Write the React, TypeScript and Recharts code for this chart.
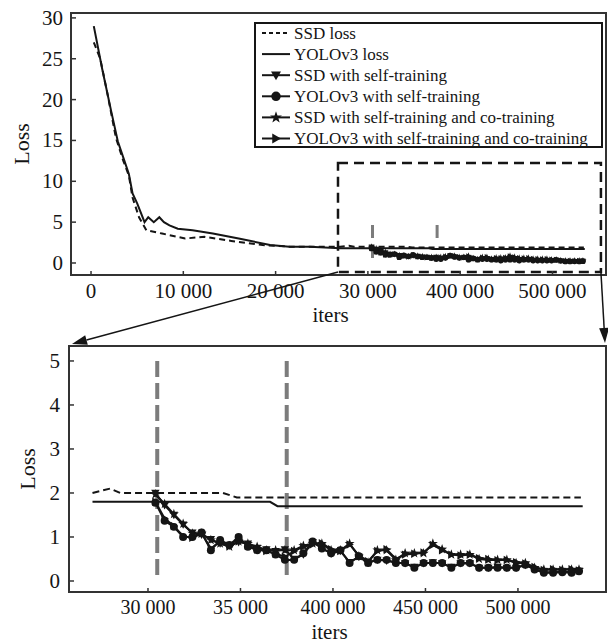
import React from 'react';
import { LineChart, Line, XAxis, YAxis, ReferenceLine, ReferenceArea, Legend } from 'recharts';

const FONT = '"Liberation Serif", "Times New Roman", serif';
const INK = '#151515';
const FRAME = '#333';
const GREY = '#7c7c7c';

// x positions are "label slots": the printed iteration labels are not on a linear scale
const topTicks = [0, 1, 2, 3, 4, 5];
const topTickLabels = ['0', '10 000', '20 000', '30 000', '400 000', '500 000'];
const topYTicks = [0, 5, 10, 15, 20, 25, 30];
const zoomTicks = [3, 3.5, 4, 4.5, 5];
const zoomTickLabels = ['30 000', '35 000', '400 000', '450 000', '500 000'];
const zoomYTicks = [0, 1, 2, 3, 4, 5];

const seriesNames = [
  'SSD loss',
  'YOLOv3 loss',
  'SSD with self-training',
  'YOLOv3 with self-training',
  'SSD with self-training and co-training',
  'YOLOv3 with self-training and co-training',
];

const ssdLossX = [0.03, 0.1, 0.18, 0.27, 0.35, 0.41, 0.45, 0.52, 0.6, 0.77, 1.02, 1.23, 1.52, 1.86, 2.15, 2.45, 2.7, 2.795, 2.85, 3.405, 3.48, 5.34];
const ssdLossY = [27.0, 25.0, 20.6, 15.3, 12.5, 10.7, 8.0, 5.6, 4.0, 3.6, 3.0, 3.2, 2.7, 2.2, 2.0, 2.0, 2.0, 2.1, 2.0, 2.0, 1.9, 1.9];

const yoloLossX = [0.03, 0.12, 0.22, 0.29, 0.35, 0.41, 0.45, 0.5, 0.58, 0.62, 0.68, 0.74, 0.79, 0.85, 0.94, 1.1, 1.32, 1.6, 1.94, 2.15, 2.37, 2.7, 3.66, 3.7, 5.35];
const yoloLossY = [29.0, 23.8, 18.5, 14.9, 12.9, 10.9, 8.5, 7.3, 5.0, 5.6, 5.0, 5.6, 5.0, 4.6, 4.2, 4.0, 3.6, 3.0, 2.2, 2.0, 2.0, 1.8, 1.8, 1.7, 1.7];

const selfX = [3.04, 3.09, 3.14, 3.19, 3.24, 3.29, 3.34, 3.39, 3.44, 3.49, 3.54, 3.59, 3.64, 3.69, 3.74, 3.79, 3.84, 3.89, 3.94, 3.99, 4.04, 4.09, 4.14, 4.19, 4.24, 4.29, 4.34, 4.39, 4.44, 4.49, 4.54, 4.59, 4.64, 4.69, 4.74, 4.79, 4.84, 4.89, 4.94, 4.99, 5.04, 5.09, 5.14, 5.19, 5.24, 5.29, 5.33];
const ssdSelf = [2.0, 1.72, 1.5, 1.28, 1.1, 1.05, 0.95, 0.85, 0.8, 0.88, 0.85, 0.75, 0.72, 0.68, 0.72,
  0.5, 0.6, 0.88, 0.75, 0.62, 0.68, 0.43, 0.55, 0.42, 0.48, 0.46, 0.42, 0.4, 0.32, 0.4, 0.42, 0.4, 0.32, 0.4, 0.4, 0.3, 0.3, 0.32, 0.3, 0.3, 0.36, 0.27, 0.2, 0.2, 0.21, 0.2, 0.23];
const yoloSelf = [1.78, 1.37, 1.23, 1.0, 1.0, 1.1, 0.7, 0.93, 0.82, 1.0, 0.78, 0.7, 0.7, 0.6, 0.48,
  0.48, 0.63, 0.9, 0.74, 0.63, 0.7, 0.41, 0.56, 0.41, 0.48, 0.48, 0.41, 0.41, 0.3, 0.41, 0.41, 0.41, 0.3, 0.41, 0.41, 0.3, 0.3, 0.3, 0.3, 0.3, 0.37, 0.26, 0.19, 0.19, 0.2, 0.19, 0.22];
const ssdCo = [1.97, 1.75, 1.52, 1.3, 1.08, 1.08, 0.93, 0.85, 0.78, 0.9, 0.85, 0.78, 0.7, 0.7, 0.7,
  0.7, 0.8, 0.85, 0.85, 0.7, 0.7, 0.85, 0.56, 0.42, 0.7, 0.7, 0.48, 0.63, 0.63, 0.63, 0.85, 0.72, 0.6, 0.6, 0.6, 0.5, 0.48, 0.48, 0.48, 0.41, 0.41, 0.3, 0.26, 0.26, 0.26, 0.26, 0.26];
const yoloCo = [1.8, 1.42, 1.25, 1.02, 0.98, 1.08, 0.74, 0.9, 0.8, 0.97, 0.8, 0.72, 0.68, 0.62, 0.55,
  0.68, 0.78, 0.83, 0.86, 0.72, 0.68, 0.83, 0.58, 0.45, 0.68, 0.72, 0.5, 0.6, 0.62, 0.65, 0.82, 0.7, 0.6, 0.58, 0.6, 0.52, 0.5, 0.47, 0.48, 0.43, 0.4, 0.32, 0.25, 0.27, 0.25, 0.27, 0.24];

// where training switches mode (grey dashed marks)
const switchX = [3.05, 3.75];

const pts = (xs: number[], ys: number[]) => xs.map((x, i) => ({ x, y: ys[i] }));
const ssdLoss = pts(ssdLossX, ssdLossY);
const yoloLoss = pts(yoloLossX, yoloLossY);
const zoomStart = 2.7;

type Kind = 'down' | 'circle' | 'star' | 'right' | null;
const selfSeries: { name: string; values: number[]; kind: Kind }[] = [
  { name: seriesNames[2], values: ssdSelf, kind: 'down' },
  { name: seriesNames[3], values: yoloSelf, kind: 'circle' },
  { name: seriesNames[4], values: ssdCo, kind: 'star' },
  { name: seriesNames[5], values: yoloCo, kind: 'right' },
];

// axis windows
const TOP_X: [number, number] = [-0.217, 5.58];
const TOP_Y: [number, number] = [-1.47, 30.6];
const ZOOM_X: [number, number] = [2.573, 5.476];
const ZOOM_Y: [number, number] = [-0.25, 5.34];
const zoomBox = { x1: 2.676, x2: 5.525, y1: -1.1, y2: 12.24 };

function Marker({ cx, cy, kind, s }: { cx?: number; cy?: number; kind: Kind; s: number }) {
  if (cx == null || cy == null || !kind) return null;
  if (kind === 'circle') return <circle cx={cx} cy={cy} r={s * 0.95} fill={INK} />;
  if (kind === 'down')
    return <polygon points={`${cx - s},${cy - s * 0.75} ${cx + s},${cy - s * 0.75} ${cx},${cy + s}`} fill={INK} />;
  if (kind === 'right')
    return <polygon points={`${cx - s * 0.75},${cy - s} ${cx - s * 0.75},${cy + s} ${cx + s},${cy}`} fill={INK} />;
  const p: string[] = [];
  for (let k = 0; k < 10; k++) {
    const r = k % 2 === 0 ? s * 1.25 : s * 0.5;
    const a = -Math.PI / 2 + (k * Math.PI) / 5;
    p.push(`${cx + r * Math.cos(a)},${cy + r * Math.sin(a)}`);
  }
  return <polygon points={p.join(' ')} fill={INK} />;
}

const makeXTick = (ticks: number[], labels: string[], gap: number, size: number) => (props: any) => {
  const { x, y, payload } = props;
  const label = labels[ticks.indexOf(payload.value)];
  return (
    <g>
      <line x1={x} x2={x} y1={y} y2={y - 4} stroke={FRAME} strokeWidth={1.5} />
      <text x={x} y={y + gap} textAnchor="middle" fontSize={size} fontFamily={FONT} fill={INK}>{label}</text>
    </g>
  );
};

const makeYTick = (gap: number) => (props: any) => {
  const { x, y, payload } = props;
  return (
    <g>
      <line x1={x} x2={x + 5} y1={y} y2={y} stroke={FRAME} strokeWidth={1.5} />
      <text x={x - gap} y={y + 7} textAnchor="end" fontSize={21} fontFamily={FONT} fill={INK}>{payload.value}</text>
    </g>
  );
};

const yTitle = (dx: number) => (props: any) => {
  const vb = props.viewBox || {};
  const cx = (vb.x || 0) + dx;
  const cy = (vb.y || 0) + (vb.height || 0) / 2;
  return (
    <text x={cx} y={cy} transform={`rotate(-90 ${cx} ${cy})`} textAnchor="middle" dominantBaseline="central" fontSize={22} fontFamily={FONT} fill={INK}>
      Loss
    </text>
  );
};

const xTitle = (dy: number) => (props: any) => {
  const vb = props.viewBox || {};
  return (
    <text x={(vb.x || 0) + (vb.width || 0) / 2 - 8} y={(vb.y || 0) + dy} textAnchor="middle" fontSize={21} fontFamily={FONT} fill={INK}>
      iters
    </text>
  );
};

function ArrowShape(props: any) {
  const { x1, y1, x2, y2 } = props;
  const ang = Math.atan2(y2 - y1, x2 - x1);
  const L = 15;
  const W = 5;
  const bx = x2 - L * Math.cos(ang);
  const by = y2 - L * Math.sin(ang);
  const px = -Math.sin(ang) * W;
  const py = Math.cos(ang) * W;
  return (
    <g>
      <line x1={x1} y1={y1} x2={bx} y2={by} stroke={INK} strokeWidth={1.5} />
      <polygon points={`${x2},${y2} ${bx + px},${by + py} ${bx - px},${by - py}`} fill={INK} />
    </g>
  );
}

function LegendBox() {
  const rows = [
    { name: seriesNames[0], dash: '4 3', kind: null as Kind },
    { name: seriesNames[1], dash: undefined, kind: null as Kind },
    ...selfSeries.map((s) => ({ name: s.name, dash: undefined, kind: s.kind })),
  ];
  return (
    <svg width={349} height={132} style={{ display: 'block', overflow: 'visible' }}>
      <rect x={1} y={1} width={347} height={124} fill="#fff" stroke={INK} strokeWidth={2} />
      {rows.map((r, i) => {
        const cy = 11 + i * 21.1;
        return (
          <g key={r.name}>
            <line x1={8} x2={36} y1={cy} y2={cy} stroke={INK} strokeWidth={2} strokeDasharray={r.dash} />
            <Marker cx={22} cy={cy} kind={r.kind} s={5} />
            <text x={40} y={cy + 5.5} fontSize={17} fontFamily={FONT} fill={INK}>{r.name}</text>
          </g>
        );
      })}
    </svg>
  );
}

const frameProps = { fill: 'none', fillOpacity: 0, stroke: FRAME, strokeWidth: 2, ifOverflow: 'visible' as const };

function TopChart() {
  return (
    <LineChart width={608} height={350} margin={{ top: 13, right: 2, bottom: 0, left: 0 }}>
      <XAxis dataKey="x" type="number" domain={TOP_X} ticks={topTicks} allowDataOverflow interval={0}
        tick={makeXTick(topTicks, topTickLabels, 23, 21)} tickSize={0} tickMargin={0} tickLine={false} axisLine={false}
        height={75} label={xTitle(47)} />
      <YAxis type="number" domain={TOP_Y} ticks={topYTicks} allowDataOverflow interval={0}
        tick={makeYTick(8)} tickSize={0} tickMargin={0} tickLine={false} axisLine={false} width={71} label={yTitle(21)} />
      {switchX.map((x, i) => (
        <ReferenceLine key={`g${i}`} segment={[{ x, y: 4.65 }, { x, y: i === 0 ? 0 : 2.6 }]} stroke={GREY} strokeWidth={3}
          strokeDasharray="13 7" ifOverflow="visible" />
      ))}
      <Line data={ssdLoss} dataKey="y" type="linear" stroke={INK} strokeWidth={2} strokeDasharray="6 4" dot={false} activeDot={false} isAnimationActive={false} />
      <Line data={yoloLoss} dataKey="y" type="linear" stroke={INK} strokeWidth={2} dot={false} activeDot={false} isAnimationActive={false} />
      {selfSeries.map((s) => (
        <Line key={s.name} data={pts(selfX, s.values)} dataKey="y" type="linear" stroke={INK} strokeWidth={2}
          dot={(p: any) => <Marker key={`${s.kind}${p.index}`} cx={p.cx} cy={p.cy} kind={s.kind} s={3} />}
          activeDot={false} isAnimationActive={false} />
      ))}
      <ReferenceArea x1={zoomBox.x1} x2={zoomBox.x2} y1={zoomBox.y1} y2={zoomBox.y2} fill="none" fillOpacity={0}
        stroke={INK} strokeWidth={2.5} strokeDasharray="10 6" ifOverflow="visible" />
      <ReferenceArea x1={TOP_X[0]} x2={TOP_X[1]} y1={TOP_Y[0]} y2={TOP_Y[1]} {...frameProps} />
      <ReferenceLine segment={[{ x: zoomBox.x1, y: zoomBox.y1 }, { x: -0.206, y: -9.91 }]} ifOverflow="visible" shape={ArrowShape} />
      <ReferenceLine segment={[{ x: zoomBox.x2, y: zoomBox.y1 }, { x: 5.569, y: -9.79 }]} ifOverflow="visible" shape={ArrowShape} />
      <Legend layout="horizontal" verticalAlign="middle" align="center" content={<LegendBox />}
        wrapperStyle={{ left: 254, top: 22, width: 349, height: 132 }} />
    </LineChart>
  );
}

function ZoomChart() {
  return (
    <LineChart width={608} height={314} margin={{ top: 16, right: 2, bottom: 0, left: 0 }}>
      <XAxis dataKey="x" type="number" domain={ZOOM_X} ticks={zoomTicks} allowDataOverflow interval={0}
        tick={makeXTick(zoomTicks, zoomTickLabels, 22, 20)} tickSize={0} tickMargin={0} tickLine={false} axisLine={false}
        height={52} label={xTitle(47)} />
      <YAxis type="number" domain={ZOOM_Y} ticks={zoomYTicks} allowDataOverflow interval={0}
        tick={makeYTick(9)} tickSize={0} tickMargin={0} tickLine={false} axisLine={false} width={69} label={yTitle(27)} />
      {switchX.map((x, i) => (
        <ReferenceLine key={`g${i}`} segment={[{ x, y: 5 }, { x, y: 0 }]} stroke={GREY} strokeWidth={4}
          strokeDasharray="16 6" ifOverflow="visible" />
      ))}
      <Line data={ssdLoss.filter((p) => p.x >= zoomStart)} dataKey="y" type="linear" stroke={INK} strokeWidth={2}
        strokeDasharray="7 4" dot={false} activeDot={false} isAnimationActive={false} />
      <Line data={yoloLoss.filter((p) => p.x >= zoomStart)} dataKey="y" type="linear" stroke={INK} strokeWidth={2}
        dot={false} activeDot={false} isAnimationActive={false} />
      {selfSeries.map((s) => (
        <Line key={s.name} data={pts(selfX, s.values)} dataKey="y" type="linear" stroke={INK} strokeWidth={2}
          dot={(p: any) => <Marker key={`${s.kind}${p.index}`} cx={p.cx} cy={p.cy} kind={s.kind} s={4.2} />}
          activeDot={false} isAnimationActive={false} />
      ))}
      <ReferenceArea x1={ZOOM_X[0]} x2={ZOOM_X[1]} y1={ZOOM_Y[0]} y2={ZOOM_Y[1]} {...frameProps} />
    </LineChart>
  );
}

export default function App() {
  return (
    <div style={{ position: 'absolute', left: 0, top: 0, width: 608, height: 644, background: '#fff', overflow: 'hidden' }}>
      <div style={{ position: 'absolute', left: 0, top: 0 }}>
        <TopChart />
      </div>
      <div style={{ position: 'absolute', left: 0, top: 330 }}>
        <ZoomChart />
      </div>
    </div>
  );
}
